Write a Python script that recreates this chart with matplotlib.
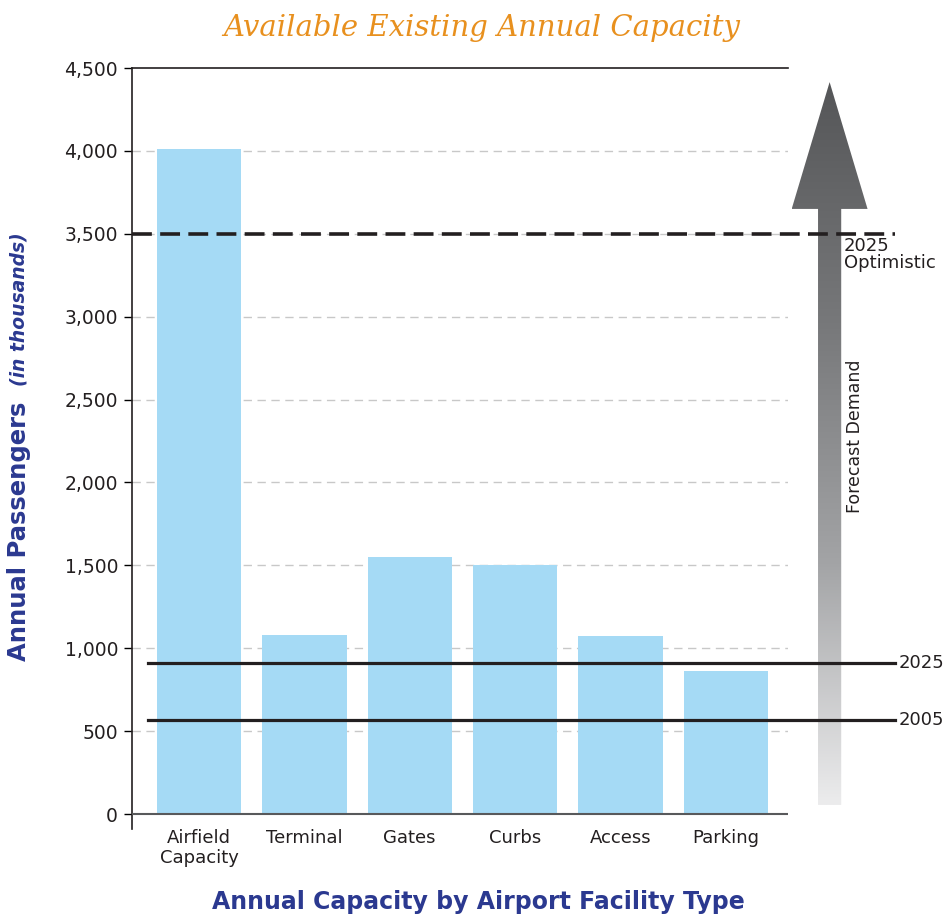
import numpy as np
import matplotlib
matplotlib.use('Agg')
import matplotlib.pyplot as plt
from matplotlib.patches import Polygon
from matplotlib.colors import LinearSegmentedColormap

plt.rcParams['font.family'] = ['DejaVu Sans']

# data (thousands of annual passengers)
categories = ['Airfield\nCapacity', 'Terminal', 'Gates', 'Curbs', 'Access', 'Parking']
capacity = [4010, 1080, 1550, 1500, 1075, 860]
demand_2005 = 570
demand_2025 = 910
demand_2025_opt = 3500
yticks = [0, 500, 1000, 1500, 2000, 2500, 3000, 3500, 4000, 4500]

blue = '#2B3990'
ink = '#231F20'
xlo, xhi = -0.636, 5.59
ylo, yhi = -90, 4500

fig = plt.figure(figsize=(9.46, 9.18), dpi=100)

# overlay axes (same data scale, wider) used for the gradient arrow outside the plot
ax2 = fig.add_axes([132/946, 89/918, 814/946, 761/918])
ax2.axis('off')

ax = fig.add_axes([132/946, 89/918, 656/946, 761/918])
ax.set_zorder(2)
ax.patch.set_visible(False)

x = np.arange(len(categories))
ax.bar(x, capacity, width=0.8, color='#A5DAF5', zorder=2)

# grid lines
for t in yticks[1:-1]:
    ax.axhline(t, color='#C8C8C8', lw=1, linestyle=(0, (6, 4)), zorder=1)
ax.axhline(0, color='#58595B', lw=1.5, zorder=3)

ax.set_xlim(xlo, xhi)
ax.set_ylim(ylo, yhi)
ax.set_yticks(yticks)
ax.set_yticklabels([f'{t:,}' for t in yticks], fontsize=13.5, color=ink)
ax.set_xticks(x)
ax.set_xticklabels(categories, fontsize=13, color=ink, linespacing=1.15)
ax.tick_params(axis='y', length=6, width=1, pad=4)
ax.tick_params(axis='x', length=0, pad=0)
for s in ['right', 'bottom']:
    ax.spines[s].set_visible(False)
for s in ['top', 'left']:
    ax.spines[s].set_color(ink)
    ax.spines[s].set_linewidth(1.2)

# demand lines, extending past the plot area
x_end = 6.61
ax.plot([-0.48, x_end], [demand_2025, demand_2025], color=ink, lw=2.3, clip_on=False, zorder=4)
ax.plot([-0.48, x_end], [demand_2005, demand_2005], color=ink, lw=2.3, clip_on=False, zorder=4)
ax.plot([xlo, x_end], [demand_2025_opt, demand_2025_opt], color=ink, lw=2.6,
        linestyle=(0, (5.5, 2.3)), clip_on=False, zorder=4)
ax.text(x_end + 0.03, demand_2025, '2025', fontsize=13, va='center', ha='left', color=ink)
ax.text(x_end + 0.03, demand_2005, '2005', fontsize=13, va='center', ha='left', color=ink)
ax.text(6.12, demand_2025_opt - 20, '2025\nOptimistic', fontsize=13, va='top', ha='left',
        color=ink, linespacing=0.95)

# gradient forecast arrow
ax_x, shaft, head = 5.985, 0.11, 0.36
y0, yb, ytip = 55, 3650, 4415
arrow = Polygon([(ax_x - shaft, y0), (ax_x + shaft, y0), (ax_x + shaft, yb), (ax_x + head, yb),
                 (ax_x, ytip), (ax_x - head, yb), (ax_x - shaft, yb)], closed=True,
                facecolor='none', edgecolor='none')
ax2.add_patch(arrow)
grad = np.linspace(0, 1, 256).reshape(-1, 1)
cmap = LinearSegmentedColormap.from_list('g', ['#ECECED', '#A3A4A6', '#77787A', '#555658'])
im = ax2.imshow(grad, cmap=cmap, origin='lower', aspect='auto',
                extent=[ax_x - head, ax_x + head, y0, ytip])
im.set_clip_path(arrow)
ax2.set_xlim(xlo, xlo + (xhi - xlo) * 814 / 656)
ax2.set_ylim(ylo, yhi)
ax.text(6.23, 2280, 'Forecast Demand', rotation=90, fontsize=12.5, ha='center', va='center',
        color=ink, clip_on=False)

# titles
fig.text(482/946, 1 - 28/918, 'Available Existing Annual Capacity', fontsize=21, color='#E8901E',
         style='italic', family='DejaVu Serif', ha='center', va='center')
fig.text(478/946, 1 - 902/918, 'Annual Capacity by Airport Facility Type', fontsize=17,
         fontweight='bold', color=blue, ha='center', va='center')
fig.text(19/946, 1 - 661/918, 'Annual Passengers', rotation=90, fontsize=17.5, fontweight='bold',
         color=blue, ha='center', va='bottom')
fig.text(19/946, 1 - 386/918, '(in thousands)', rotation=90, fontsize=13.5, fontweight='bold',
         style='italic', color=blue, ha='center', va='bottom')

fig.savefig('out.png', dpi=100)
